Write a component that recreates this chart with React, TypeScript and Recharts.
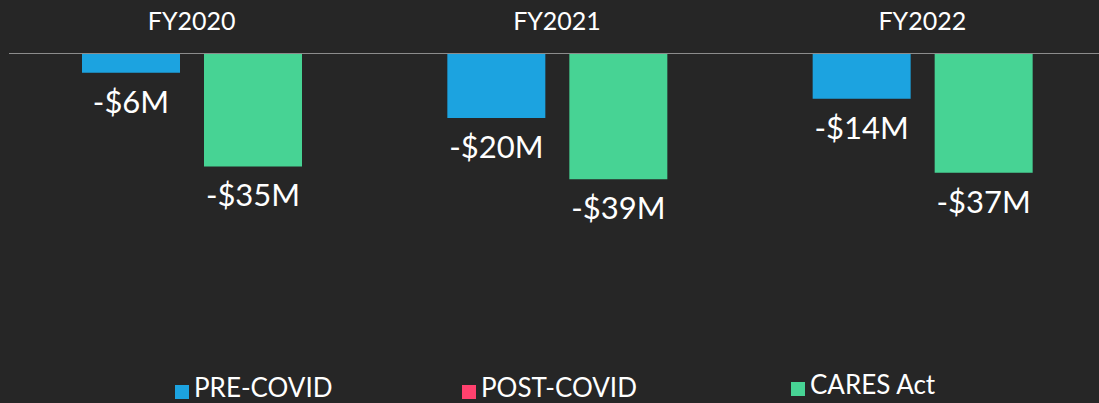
import { BarChart, Bar, XAxis, YAxis, Legend, LabelList } from 'recharts';

const years = ['FY2020', 'FY2021', 'FY2022'];
const preCovid = [-6, -20, -14];
const caresAct = [-35, -39, -37];
const seriesNames = ['PRE-COVID', 'POST-COVID', 'CARES Act'];
const seriesColors = ['#1CA3E0', '#FF416E', '#47D394'];

const data = years.map((year, i) => ({ year, pre: preCovid[i], cares: caresAct[i] }));

// legend items sit at fixed spots in the original slide
const legendSpots = [
    { left: 175, top: -2 },
    { left: 462, top: -2 },
    { left: 791, top: -5 },
];

const fmt = (v: number) => (v < 0 ? `-$${Math.abs(v)}M` : `$${v}M`);

const renderValue = (props: any) => {
    const { x, y, width, height, value } = props;
    const bottom = Math.max(Number(y), Number(y) + Number(height));
    return (
        <text x={Number(x) + Number(width) / 2} y={bottom + 40} fill="#ffffff" textAnchor="middle" fontSize={31} fontFamily="Lato">
            {fmt(Number(value))}
        </text>
    );
};

const renderLegend = () => (
    <div style={{ position: 'relative', height: 27 }}>
        {seriesNames.map((name, i) => (
            <div key={name} style={{ position: 'absolute', left: legendSpots[i].left, top: legendSpots[i].top, display: 'flex', alignItems: 'flex-start', gap: 5 }}>
                <span style={{ width: 14, height: 14, marginTop: 11, background: seriesColors[i], display: 'inline-block' }} />
                <span style={{ color: '#ffffff', fontFamily: 'Lato', fontSize: 26, lineHeight: '26px', whiteSpace: 'nowrap' }}>{name}</span>
            </div>
        ))}
    </div>
);

export default function App() {
    return (
        <div style={{ position: 'fixed', top: 0, left: 0, width: 1099, height: 403, background: '#262626', overflow: 'hidden' }}>
            <BarChart width={1105} height={403} data={data} margin={{ top: 0, right: 0, bottom: 0, left: 9 }} barSize={98} barGap={24}>
                <XAxis
                    dataKey="year"
                    orientation="top"
                    height={53.5}
                    tickLine={false}
                    tickSize={0}
                    tickMargin={24}
                    axisLine={{ stroke: '#8c8c8c', strokeWidth: 1 }}
                    tick={{ fill: '#ffffff', fontSize: 25, fontFamily: 'Lato' }}
                />
                <YAxis hide domain={[-100, 0]} />
                <Legend verticalAlign="bottom" height={27} content={renderLegend} wrapperStyle={{ left: 0, bottom: 0, width: 1105 }} />
                <Bar dataKey="pre" name={seriesNames[0]} fill={seriesColors[0]} isAnimationActive={false}>
                    <LabelList dataKey="pre" content={renderValue} />
                </Bar>
                <Bar dataKey="cares" name={seriesNames[2]} fill={seriesColors[2]} isAnimationActive={false}>
                    <LabelList dataKey="cares" content={renderValue} />
                </Bar>
            </BarChart>
        </div>
    );
}
